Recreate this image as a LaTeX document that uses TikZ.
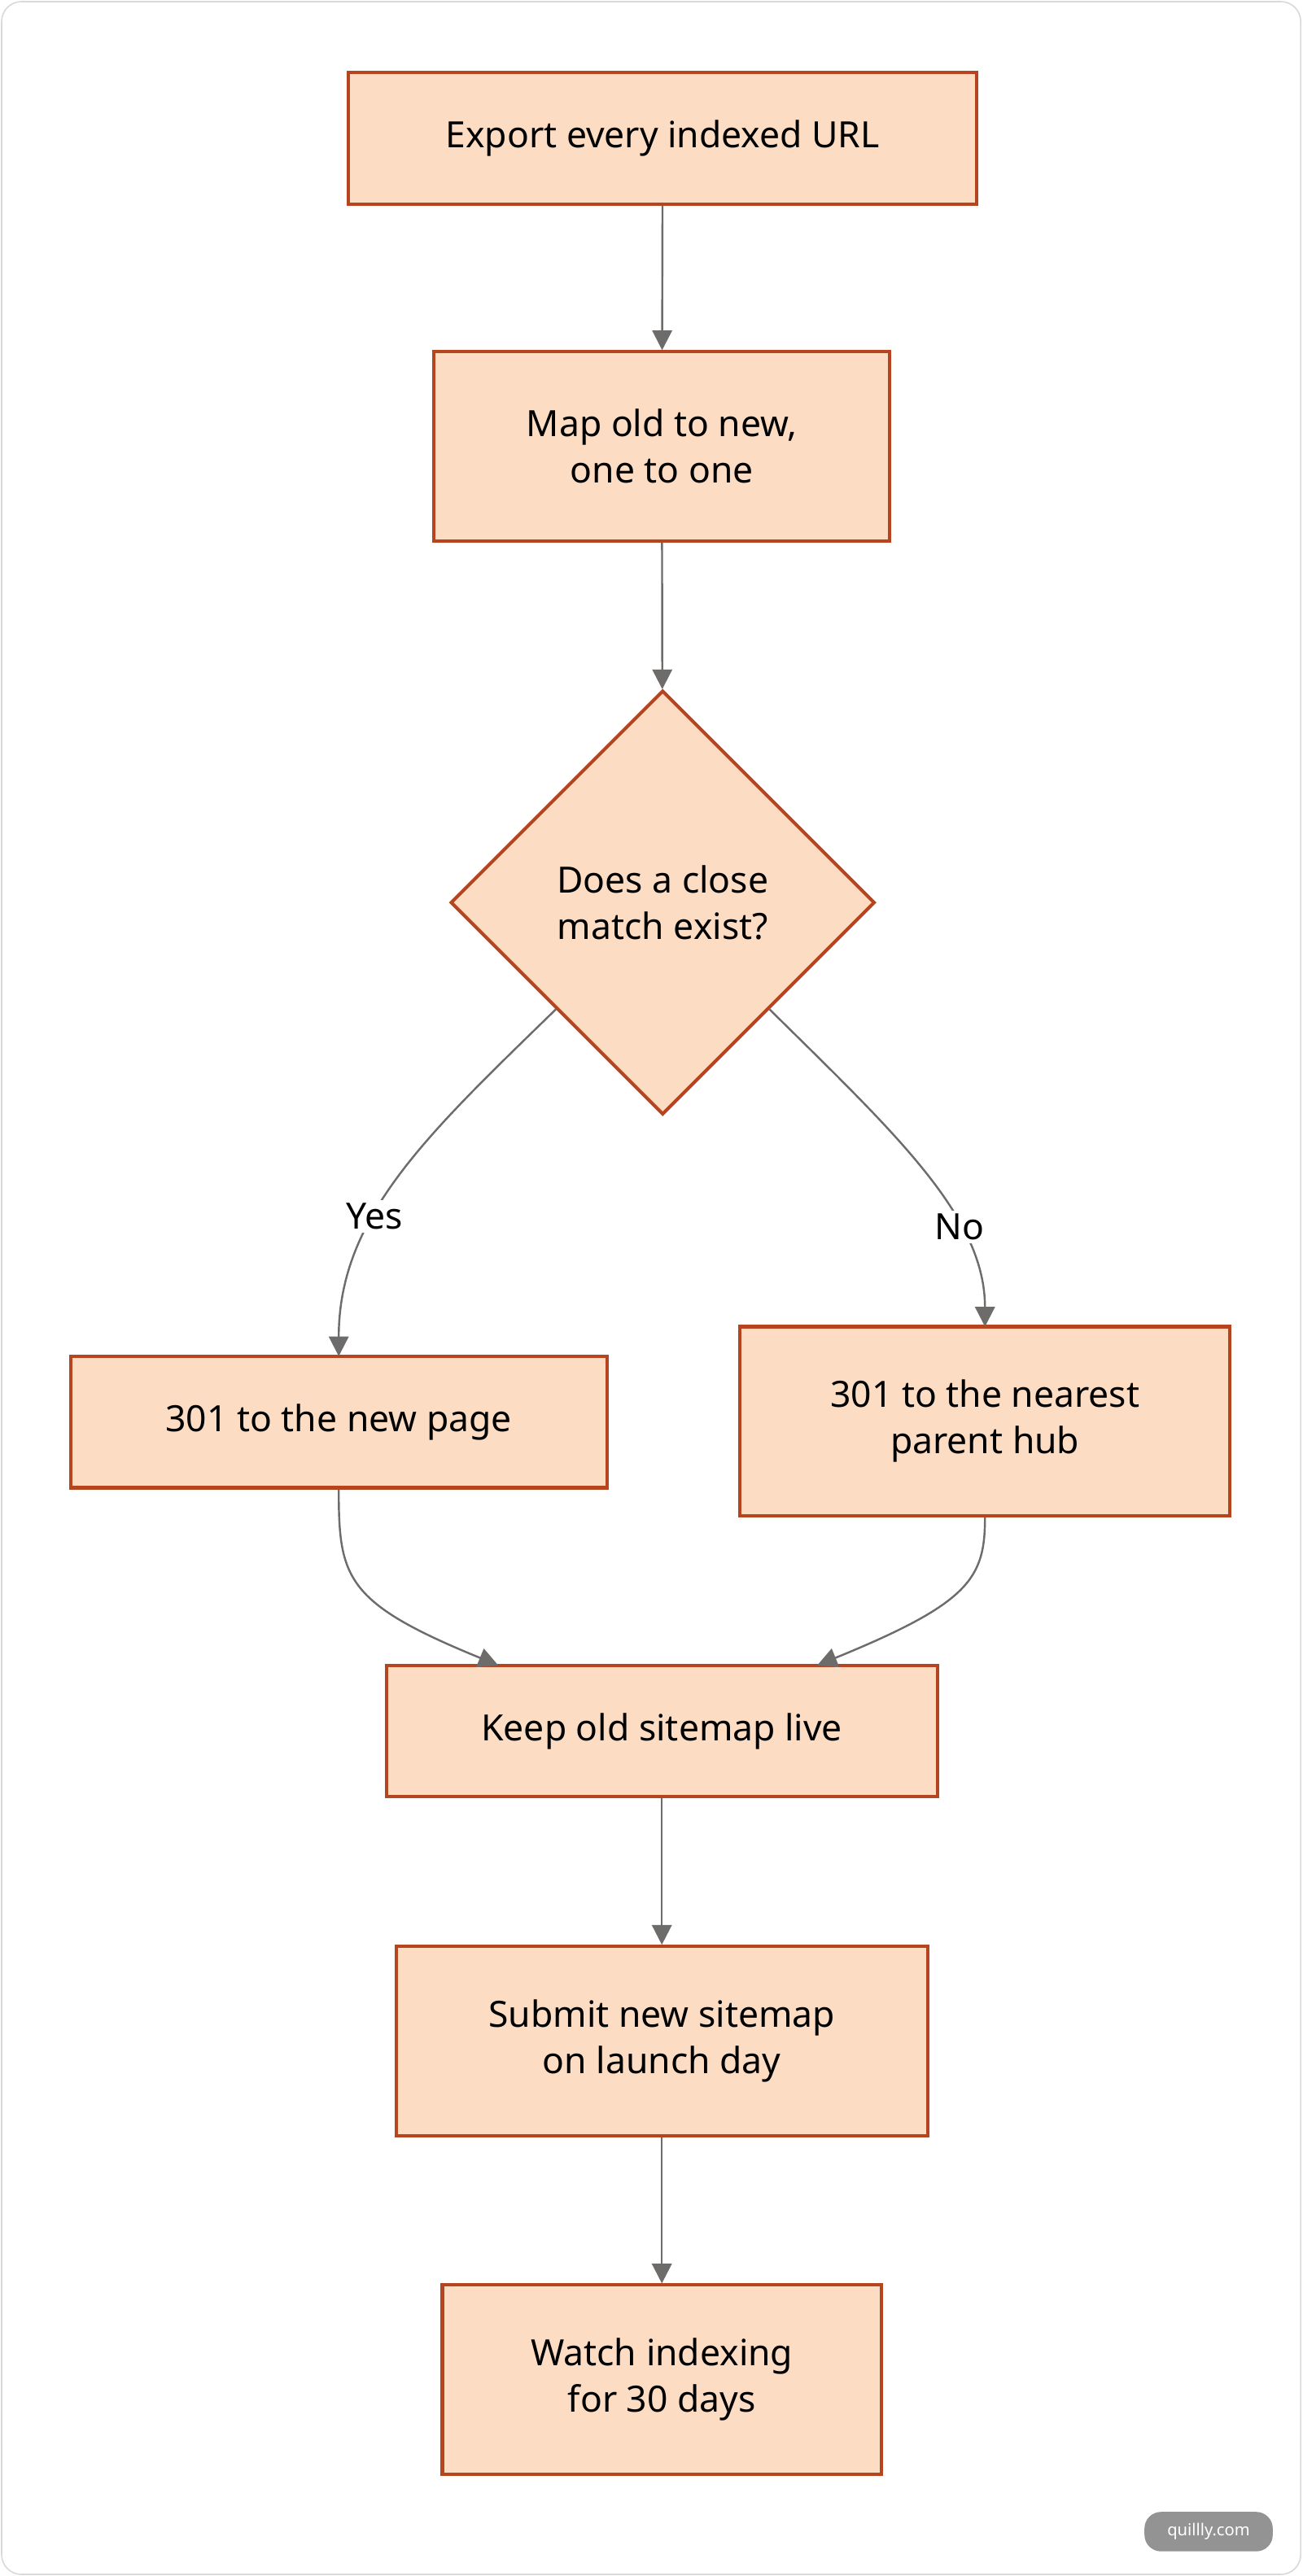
\documentclass[tikz,border=0pt]{standalone}
\usepackage{fontspec}
\setmainfont{Noto Sans}
\usetikzlibrary{arrows.meta}
\usetikzlibrary{shapes.geometric}
\definecolor{boxfill}{HTML}{FDDCC4}
\definecolor{boxline}{HTML}{B5441F}
\definecolor{arrowgray}{HTML}{6E6B6B}
\tikzset{
  task/.style={draw=boxline, fill=boxfill, line width=1pt, font=\fontsize{11}{14}\selectfont, align=center, inner sep=0pt},
  check/.style={task, diamond, minimum width=129pt, minimum height=129pt},
  flow/.style={draw=arrowgray, line width=0.6pt, -{Triangle[length=6pt,width=6pt]}},
  answer/.style={fill=white, font=\fontsize{11}{14}\selectfont, inner sep=1pt}
}
\begin{document}
\begin{tikzpicture}[x=0.5pt, y=-0.5pt]
    \useasboundingbox (0,0) rectangle (792,1567);
    \draw[draw=gray!30, fill=white, rounded corners=6pt] (1,1) rectangle (791,1566);
    \node[task, minimum width=191pt, minimum height=40pt] (export) at (403,84) {Export every indexed URL};
    \node[task, minimum width=138.5pt, minimum height=57.5pt] (map) at (402.5,271.5) {Map old to new,\\one to one};
    \node[check] (match) at (403,549) {Does a close\\match exist?};
    \node[task, minimum width=163pt, minimum height=40pt] (newpage) at (206,865) {301 to the new page};
    \node[task, minimum width=149pt, minimum height=57.5pt] (hub) at (599,864.5) {301 to the nearest\\parent hub};
    \node[task, minimum width=167.5pt, minimum height=40pt] (keep) at (402.5,1053) {Keep old sitemap live};
    \node[task, minimum width=161.5pt, minimum height=57.5pt] (submit) at (402.5,1241.5) {Submit new sitemap\\on launch day};
    \node[task, minimum width=133.5pt, minimum height=57.5pt] (watch) at (402.5,1447.5) {Watch indexing\\for 30 days};
    \coordinate (yesend) at (206,825);
    \coordinate (noend) at (599,807);
    \draw[flow] (export) -- (map);
    \draw[flow] (map) -- (match);
    \draw[flow] (338,614) .. controls (260,690) and (206,740) .. node[answer, pos=0.62] {Yes} (yesend);
    \draw[flow] (468,614) .. controls (545,690) and (599,740) .. node[answer, pos=0.68] {No} (noend);
    \draw[flow] (newpage.south) .. controls (206,960) and (210,975) .. (303,1013);
    \draw[flow] (hub.south) .. controls (599,960) and (590,975) .. (497,1013);
    \draw[flow] (keep) -- (submit);
    \draw[flow] (submit) -- (watch);
    \node[fill=gray!85, text=white, rounded corners=5pt, font=\fontsize{5}{6}\selectfont\bfseries, minimum width=39pt, minimum height=12pt] (badge) at (735,1540) {quillly.com};
\end{tikzpicture}
\end{document}
